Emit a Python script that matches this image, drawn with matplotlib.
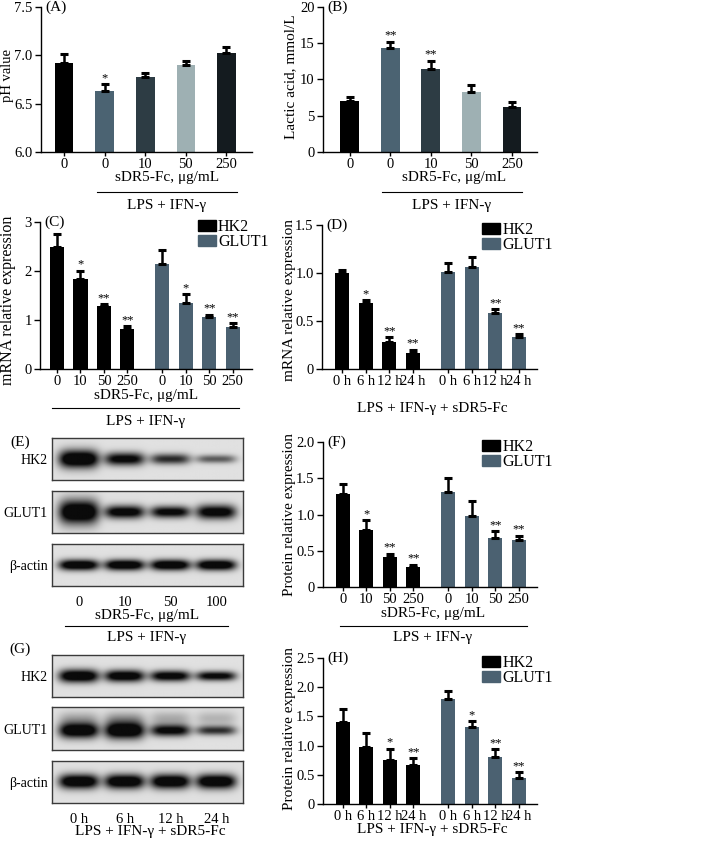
import numpy as np
import matplotlib.pyplot as plt
from matplotlib.patches import Patch
from matplotlib.lines import Line2D

plt.rcParams['font.family'] = ['Liberation Serif', 'DejaVu Serif']
plt.rcParams['font.size'] = 11

# ---- data ----
# (A) pH of the medium
dose_labels = ['0', '0', '10', '50', '250']
ph_mean = [6.92, 6.63, 6.78, 6.90, 7.02]
ph_err = [0.09, 0.07, 0.04, 0.04, 0.07]
ph_stars = ['', '*', '', '', '']

# (B) lactic acid
lac_mean = [7.0, 14.3, 11.5, 8.3, 6.2]
lac_err = [0.6, 0.9, 1.1, 1.0, 0.7]
lac_stars = ['', '**', '**', '', '']

group_doses = ['0', '10', '50', '250']
group_times = ['0 h', '6 h', '12 h', '24 h']

# (C) mRNA vs dose
c_hk2 = [2.50, 1.84, 1.29, 0.82]
c_hk2_err = [0.25, 0.17, 0.03, 0.06]
c_hk2_stars = ['', '*', '**', '**']
c_glut1 = [2.15, 1.35, 1.06, 0.85]
c_glut1_err = [0.28, 0.18, 0.05, 0.09]
c_glut1_stars = ['', '*', '**', '**']

# (D) mRNA vs time
d_hk2 = [1.00, 0.69, 0.28, 0.17]
d_hk2_err = [0.03, 0.03, 0.05, 0.03]
d_hk2_stars = ['', '*', '**', '**']
d_glut1 = [1.01, 1.06, 0.58, 0.33]
d_glut1_err = [0.09, 0.11, 0.04, 0.03]
d_glut1_stars = ['', '', '**', '**']

# (F) protein vs dose
f_hk2 = [1.28, 0.79, 0.41, 0.28]
f_hk2_err = [0.14, 0.13, 0.05, 0.03]
f_hk2_stars = ['', '*', '**', '**']
f_glut1 = [1.31, 0.98, 0.67, 0.65]
f_glut1_err = [0.20, 0.21, 0.10, 0.06]
f_glut1_stars = ['', '', '**', '**']

# (H) protein vs time
h_hk2 = [1.40, 0.98, 0.75, 0.66]
h_hk2_err = [0.23, 0.23, 0.20, 0.12]
h_hk2_stars = ['', '', '*', '**']
h_glut1 = [1.80, 1.32, 0.80, 0.44]
h_glut1_err = [0.14, 0.10, 0.14, 0.10]
h_glut1_stars = ['', '*', '**', '**']

# western blots: band darkness and band thickness (px)
e_lanes = ['0', '10', '50', '100']
e_hk2_band = [1.0, 0.80, 0.62, 0.45]
e_hk2_thick = [15, 11, 9, 7]
e_glut1_band = [1.0, 0.85, 0.80, 0.85]
e_glut1_thick = [20, 11, 10, 12]
e_actin_band = [0.95, 0.95, 0.95, 0.95]
e_actin_thick = [9, 9, 9, 9]

g_lanes = ['0 h', '6 h', '12 h', '24 h']
g_hk2_band = [0.95, 0.90, 0.85, 0.80]
g_hk2_thick = [11, 10, 9, 8]
g_glut1_band = [0.95, 1.0, 0.80, 0.60]
g_glut1_thick = [13, 14, 10, 8]
g_glut1_smear = [0.18, 0.22, 0.18, 0.15]
g_actin_band = [0.95, 0.95, 0.95, 0.95]
g_actin_thick = [12, 12, 12, 12]

ab_colors = ['#000000', '#4b6372', '#2d3c44', '#9eb0b3', '#141b1f']
HK2_C = '#000000'
GLUT_C = '#4b6171'

W, H = 708, 842
fig = plt.figure(figsize=(W / 100, H / 100), dpi=100)


def px_axes(l, t, r, b):
    return fig.add_axes([l / W, 1 - b / H, (r - l) / W, (b - t) / H])


def ftext(x, y, s, **kw):
    kw.setdefault('ha', 'center')
    kw.setdefault('va', 'center')
    fig.text(x / W, 1 - y / H, s, **kw)


def hline(x0, x1, y):
    fig.add_artist(Line2D([x0 / W, x1 / W], [1 - y / H, 1 - y / H],
                          color='black', lw=0.8))


def style(ax, ylim, yticks, ylabels, letter):
    for s in ['top', 'right']:
        ax.spines[s].set_visible(False)
    for s in ['left', 'bottom']:
        ax.spines[s].set_linewidth(1)
    ax.set_ylim(*ylim)
    ax.set_yticks(yticks)
    ax.set_yticklabels(ylabels)
    ax.tick_params(direction='out', length=4, width=1, labelsize=10.5, pad=2)
    ax.tick_params(axis='x', length=3, pad=1.5)
    ax.annotate(letter, xy=(0, 1), xycoords='axes fraction', xytext=(3, 0),
                textcoords='offset points', ha='left', va='center', fontsize=11)


def bars(ax, x, vals, errs, colors, stars, width):
    ax.bar(x, vals, width, color=colors)
    ax.errorbar(x, vals, yerr=[np.zeros(len(vals)), errs], fmt='none',
                ecolor='black', elinewidth=1.8, capsize=3, capthick=2.2)
    for xi, v, e, s in zip(x, vals, errs, stars):
        if s:
            ax.annotate(s, (xi, v + e), xytext=(0, 0), textcoords='offset points',
                        ha='center', va='bottom', fontsize=9)


def grouped(ax, hk2, hk2_err, hk2_st, glut, glut_err, glut_st, labels, xlim):
    p1 = np.arange(4)
    p2 = np.arange(4) + 4.5
    bars(ax, p1, hk2, hk2_err, HK2_C, hk2_st, 0.6)
    bars(ax, p2, glut, glut_err, GLUT_C, glut_st, 0.6)
    ax.set_xticks(np.concatenate([p1, p2]))
    ax.set_xticklabels(labels + labels)
    ax.set_xlim(*xlim)
    ax.legend(handles=[Patch(color=HK2_C, label='HK2'), Patch(color=GLUT_C, label='GLUT1')],
              loc='upper left', bbox_to_anchor=(0.745, 1.02), frameon=False,
              handlelength=1.1, handleheight=0.7, handletextpad=0.15,
              labelspacing=-0.05, borderaxespad=0, borderpad=0, fontsize=11.5)


def blot(ax, band, thick, box_w, box_h, smear=None, yshift=0.0):
    lanes = 0.14 + 0.24 * np.arange(4)
    ny, nx = 90, 400
    yy, xx = np.mgrid[0:box_h:ny * 1j, 0:1:nx * 1j]
    yc = box_h / 2 - yshift
    dens = np.zeros_like(xx)
    for i, c in enumerate(lanes):
        gx = np.exp(-np.abs((xx - c) / 0.105) ** 4)
        gy = np.exp(-4 * np.log(2) * ((yy - yc) / thick[i]) ** 2)
        dens += band[i] * gx * gy
        if smear is not None:
            gs = np.exp(-4 * np.log(2) * ((yy - yc - 12) / 12) ** 2)
            dens += smear[i] * gx * gs
    img = 0.88 - 0.84 * np.clip(1.4 * dens, 0, 1)
    ax.imshow(img, cmap='gray', vmin=0, vmax=1, extent=[0, 1, 0, 1],
              aspect='auto', origin='lower', interpolation='bilinear')
    ax.set_xlim(0, 1)
    ax.set_ylim(0, 1)
    for s in ax.spines.values():
        s.set_color('#3a3a3a')
        s.set_linewidth(1)
    ax.set_xticks([])
    ax.tick_params(axis='y', length=0, labelsize=10, pad=3)
    ax.tick_params(axis='x', length=0, labelsize=10.5, pad=7)
    return lanes


# ---- (A) ----
axA = px_axes(41, 7, 252, 152)
bars(axA, np.arange(5), ph_mean, ph_err, ab_colors, ph_stars, 0.46)
style(axA, (6.0, 7.5), [6.0, 6.5, 7.0, 7.5], ['6.0', '6.5', '7.0', '7.5'], '(A)')
axA.set_xticks(np.arange(5))
axA.set_xticklabels(dose_labels)
axA.set_xlim(-0.57, 4.63)
ftext(7, 76, 'pH value', rotation=90, fontsize=10.5)
ftext(167, 178, 'sDR5-Fc, μg/mL')
hline(97, 237, 192)
ftext(167, 205, 'LPS + IFN-γ')

# ---- (B) ----
axB = px_axes(323, 7, 537, 152)
bars(axB, np.arange(5), lac_mean, lac_err, ab_colors, lac_stars, 0.46)
style(axB, (0, 20), [0, 5, 10, 15, 20], ['0', '5', '10', '15', '20'], '(B)')
axB.set_xticks(np.arange(5))
axB.set_xticklabels(dose_labels)
axB.set_xlim(-0.66, 4.62)
ftext(291, 77, 'Lactic acid, mmol/L', rotation=90, fontsize=11)
ftext(454, 178, 'sDR5-Fc, μg/mL')
hline(382, 522, 192)
ftext(452, 205, 'LPS + IFN-γ')

# ---- (C) ----
axC = px_axes(40, 222, 252, 369)
grouped(axC, c_hk2, c_hk2_err, c_hk2_stars, c_glut1, c_glut1_err, c_glut1_stars,
        group_doses, (-0.73, 8.33))
style(axC, (0, 3), [0, 1, 2, 3], ['0', '1', '2', '3'], '(C)')
ftext(8, 300, 'mRNA relative expression', rotation=90, fontsize=11.5)
ftext(146, 396, 'sDR5-Fc, μg/mL')
hline(52, 239, 408)
ftext(146, 421, 'LPS + IFN-γ')

# ---- (D) ----
axD = px_axes(322, 225, 537, 369)
grouped(axD, d_hk2, d_hk2_err, d_hk2_stars, d_glut1, d_glut1_err, d_glut1_stars,
        group_times, (-0.87, 8.28))
style(axD, (0, 1.5), [0, 0.5, 1.0, 1.5], ['0', '0.5', '1.0', '1.5'], '(D)')
ftext(289, 300, 'mRNA relative expression', rotation=90, fontsize=11)
ftext(432, 409, 'LPS + IFN-γ + sDR5-Fc')

# ---- (E) blots ----
e_rows = [('HK2', e_hk2_band, e_hk2_thick, 438, 480),
          ('GLUT1', e_glut1_band, e_glut1_thick, 491, 533),
          ('β-actin', e_actin_band, e_actin_thick, 544, 586)]
for name, band, thick, t, b in e_rows:
    ax = px_axes(52, t, 243, b)
    lanes = blot(ax, band, thick, 191, b - t)
    ax.set_yticks([0.5])
    ax.set_yticklabels([name])
ax.set_xticks(lanes)
ax.set_xticklabels(e_lanes)
ftext(20, 442, '(E)')
ftext(147, 615, 'sDR5-Fc, μg/mL')
hline(65, 228, 626)
ftext(147, 637, 'LPS + IFN-γ')

# ---- (F) ----
axF = px_axes(323, 442, 537, 587)
grouped(axF, f_hk2, f_hk2_err, f_hk2_stars, f_glut1, f_glut1_err, f_glut1_stars,
        group_doses, (-0.85, 8.28))
style(axF, (0, 2.0), [0, 0.5, 1.0, 1.5, 2.0], ['0', '0.5', '1.0', '1.5', '2.0'], '(F)')
ftext(289, 514, 'Protein relative expression', rotation=90, fontsize=11)
ftext(433, 614, 'sDR5-Fc, μg/mL')
hline(340, 527, 626)
ftext(433, 638, 'LPS + IFN-γ')

# ---- (G) blots ----
g_rows = [('HK2', g_hk2_band, g_hk2_thick, None, 655, 697),
          ('GLUT1', g_glut1_band, g_glut1_thick, g_glut1_smear, 707, 750),
          ('β-actin', g_actin_band, g_actin_thick, None, 761, 803)]
for name, band, thick, smear, t, b in g_rows:
    ax = px_axes(52, t, 243, b)
    shift = 2.0 if smear is not None else 0.0
    lanes = blot(ax, band, thick, 191, b - t, smear=smear, yshift=shift)
    ax.set_yticks([0.5])
    ax.set_yticklabels([name])
ax.set_xticks(lanes)
ax.set_xticklabels(g_lanes)
ftext(20, 649, '(G)')
ftext(150, 832, 'LPS + IFN-γ + sDR5-Fc')

# ---- (H) ----
axH = px_axes(323, 658, 537, 804)
grouped(axH, h_hk2, h_hk2_err, h_hk2_stars, h_glut1, h_glut1_err, h_glut1_stars,
        group_times, (-0.85, 8.28))
style(axH, (0, 2.5), [0, 0.5, 1.0, 1.5, 2.0, 2.5],
      ['0', '0.5', '1.0', '1.5', '2.0', '2.5'], '(H)')
ftext(289, 729, 'Protein relative expression', rotation=90, fontsize=11)
ftext(432, 830, 'LPS + IFN-γ + sDR5-Fc')

fig.savefig('out.png', dpi=100)
